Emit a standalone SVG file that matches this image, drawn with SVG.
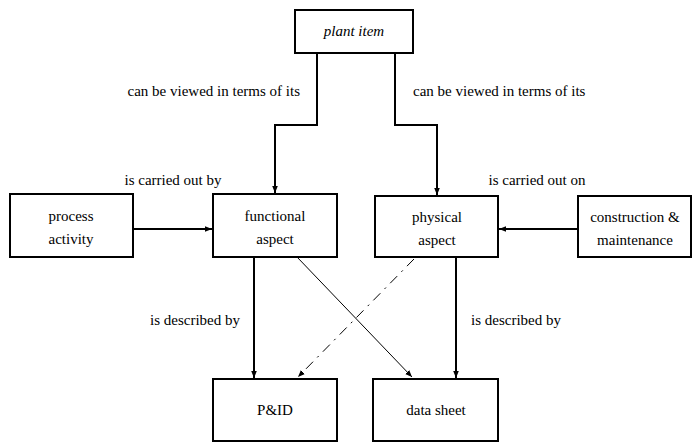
<svg xmlns="http://www.w3.org/2000/svg" width="693" height="443" viewBox="0 0 693 443">
<defs>
<marker id="ah" viewBox="0 0 10 10" refX="10" refY="5" markerWidth="7" markerHeight="7" markerUnits="userSpaceOnUse" orient="auto">
<path d="M0,1 L10,5 L0,9 z" fill="#000"/>
</marker>
</defs>
<rect width="693" height="443" fill="#fff"/>
<g id="connectors" fill="none" stroke="#000" stroke-width="2">
<polyline points="317,53 317,125 275,125 275,193" marker-end="url(#ah)"/>
<polyline points="395,53 395,125 437,125 437,195" marker-end="url(#ah)"/>
<line x1="133" y1="229" x2="212" y2="229" marker-end="url(#ah)"/>
<line x1="578" y1="229" x2="499" y2="229" marker-end="url(#ah)"/>
<line x1="254" y1="257" x2="254" y2="378" marker-end="url(#ah)"/>
<line x1="456" y1="257" x2="456" y2="378" marker-end="url(#ah)"/>
<line x1="297" y1="257" x2="412" y2="377" stroke-width="1" marker-end="url(#ah)"/>
<line x1="414" y1="259" x2="298" y2="377" stroke-width="1" stroke-dasharray="10 6 2 6" marker-end="url(#ah)"/>
</g>
<g id="labels" fill="#000" stroke="none">
<text x="300" y="96" style="font-family:'Liberation Serif',serif;font-size:15px" text-anchor="end">can be viewed in terms of its</text>
<text x="413" y="96" style="font-family:'Liberation Serif',serif;font-size:15px">can be viewed in terms of its</text>
<text x="173" y="185" style="font-family:'Liberation Serif',serif;font-size:15px" text-anchor="middle">is carried out by</text>
<text x="537" y="185" style="font-family:'Liberation Serif',serif;font-size:15px" text-anchor="middle">is carried out on</text>
<text x="240" y="325" style="font-family:'Liberation Serif',serif;font-size:15px" text-anchor="end">is described by</text>
<text x="471" y="325" style="font-family:'Liberation Serif',serif;font-size:15px">is described by</text>
</g>
<g id="plant-item"><rect x="295" y="10" width="118" height="43" fill="#fff" stroke="#000" stroke-width="2"/><text x="354" y="36" style="font-family:'Liberation Serif',serif;font-size:15px;font-style:italic" text-anchor="middle">plant item</text></g>
<g id="process-activity"><rect x="10" y="194" width="123" height="63" fill="#fff" stroke="#000" stroke-width="2"/><text x="71" y="221" style="font-family:'Liberation Serif',serif;font-size:15px" text-anchor="middle">process</text><text x="71" y="244" style="font-family:'Liberation Serif',serif;font-size:15px" text-anchor="middle">activity</text></g>
<g id="functional-aspect"><rect x="213" y="194" width="124" height="63" fill="#fff" stroke="#000" stroke-width="2"/><text x="275" y="221" style="font-family:'Liberation Serif',serif;font-size:15px" text-anchor="middle">functional</text><text x="275" y="244" style="font-family:'Liberation Serif',serif;font-size:15px" text-anchor="middle">aspect</text></g>
<g id="physical-aspect"><rect x="375" y="196" width="123" height="61" fill="#fff" stroke="#000" stroke-width="2"/><text x="437" y="222" style="font-family:'Liberation Serif',serif;font-size:15px" text-anchor="middle">physical</text><text x="437" y="245" style="font-family:'Liberation Serif',serif;font-size:15px" text-anchor="middle">aspect</text></g>
<g id="construction-maintenance"><rect x="578" y="196" width="113" height="61" fill="#fff" stroke="#000" stroke-width="2"/><text x="635" y="222" style="font-family:'Liberation Serif',serif;font-size:15px" text-anchor="middle">construction &amp;</text><text x="635" y="245" style="font-family:'Liberation Serif',serif;font-size:15px" text-anchor="middle">maintenance</text></g>
<g id="pid"><rect x="213" y="379" width="124" height="62" fill="#fff" stroke="#000" stroke-width="2"/><text x="275" y="415" style="font-family:'Liberation Serif',serif;font-size:15px" text-anchor="middle">P&amp;ID</text></g>
<g id="data-sheet"><rect x="373" y="379" width="125" height="62" fill="#fff" stroke="#000" stroke-width="2"/><text x="436" y="415" style="font-family:'Liberation Serif',serif;font-size:15px" text-anchor="middle">data sheet</text></g>
</svg>
